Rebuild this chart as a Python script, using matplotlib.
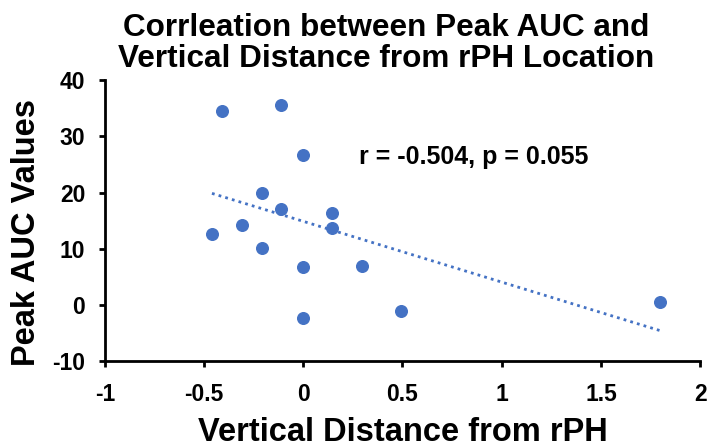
import numpy as np
import matplotlib
matplotlib.use("Agg")
import matplotlib.pyplot as plt

plt.rcParams['font.family'] = ['Liberation Sans', 'DejaVu Sans']
plt.rcParams['font.weight'] = 'bold'
plt.rcParams['axes.unicode_minus'] = False

vertical_distance = [-0.41, -0.11, 0.0, -0.21, -0.11, 0.145, 0.145, -0.31, -0.46,
                     -0.21, 0.0, 0.295, 0.0, 0.49, 1.795]
peak_auc = [34.6, 35.6, 26.6, 19.9, 17.0, 16.4, 13.7, 14.3, 12.7,
            10.2, 6.7, 7.0, -2.4, -1.1, 0.6]
x_ticks = [-1, -0.5, 0, 0.5, 1, 1.5, 2]
x_tick_labels = ['-1', '-0.5', '0', '0.5', '1', '1.5', '2']
y_ticks = [-10, 0, 10, 20, 30, 40]

color = '#4472C4'

fig = plt.figure(figsize=(7.08, 4.48), dpi=100)
ax = fig.add_axes([0.148, 0.194, 0.841, 0.627])

ax.scatter(vertical_distance, peak_auc, s=70, color=color, zorder=3)

# linear trendline
slope, intercept = np.polyfit(vertical_distance, peak_auc, 1)
xs = np.array([min(vertical_distance), max(vertical_distance)])
ax.plot(xs, slope * xs + intercept, color=color, linestyle=(0, (1, 1.5)), linewidth=2)

ax.set_xlim(-1, 2)
ax.set_ylim(-10, 40)
ax.set_xticks(x_ticks)
ax.set_xticklabels(x_tick_labels)
ax.set_yticks(y_ticks)

for side in ['top', 'right']:
    ax.spines[side].set_visible(False)
for side in ['left', 'bottom']:
    ax.spines[side].set_linewidth(2)
ax.tick_params(axis='both', width=2, length=4, labelsize=16.5)
ax.tick_params(axis='x', pad=12)
ax.tick_params(axis='y', pad=10)

ax.set_xlabel('Vertical Distance from rPH', fontsize=23.5, fontweight='bold')
ax.xaxis.set_label_coords(0.5, -0.198)
ax.set_ylabel('Peak AUC Values', fontsize=23.5, fontweight='bold')
ax.yaxis.set_label_coords(-0.105, 0.457)
fig.suptitle('Corrleation between Peak AUC and\nVertical Distance from rPH Location',
             fontsize=22.7, fontweight='bold', x=0.545, y=0.972, linespacing=1.08)

ax.text(0.86, 26.3, 'r = -0.504, p = 0.055', fontsize=18, fontweight='bold',
        ha='center', va='center')

fig.savefig('out.png', dpi=100)
